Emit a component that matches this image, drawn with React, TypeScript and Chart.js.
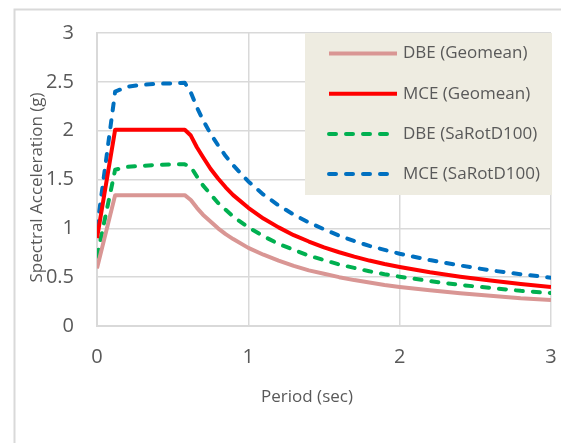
import React, { useEffect, useRef } from "react";
import { Chart, registerables } from "chart.js";

Chart.register(...registerables);

// Period (sec)
const periods = [0, 0.12, 0.2, 0.3, 0.4, 0.5, 0.58, 0.62, 0.66, 0.7, 0.75, 0.8, 0.85, 0.9, 1.0, 1.1, 1.2, 1.3, 1.4, 1.5, 1.6, 1.7, 1.8, 1.9, 2.0, 2.2, 2.4, 2.6, 2.8, 3.0];

// Spectral acceleration (g)
const dbeGeomean = [0.59, 1.34, 1.34, 1.34, 1.34, 1.34, 1.34, 1.29, 1.21, 1.14, 1.07, 1.0, 0.94, 0.89, 0.8, 0.73, 0.67, 0.615, 0.57, 0.535, 0.5, 0.47, 0.445, 0.42, 0.4, 0.365, 0.335, 0.31, 0.285, 0.267];
const mceGeomean = [0.9, 2.01, 2.01, 2.01, 2.01, 2.01, 2.01, 1.95, 1.83, 1.73, 1.61, 1.51, 1.42, 1.34, 1.21, 1.1, 1.01, 0.93, 0.865, 0.805, 0.755, 0.71, 0.67, 0.635, 0.605, 0.55, 0.505, 0.465, 0.43, 0.4];
const dbeSaRotD100 = [0.71, 1.6, 1.63, 1.64, 1.65, 1.655, 1.655, 1.63, 1.53, 1.44, 1.35, 1.26, 1.19, 1.12, 1.01, 0.92, 0.84, 0.78, 0.72, 0.675, 0.63, 0.595, 0.56, 0.53, 0.505, 0.46, 0.42, 0.39, 0.36, 0.337];
const mceSaRotD100 = [1.0, 2.4, 2.45, 2.47, 2.48, 2.485, 2.49, 2.39, 2.24, 2.11, 1.97, 1.85, 1.74, 1.645, 1.48, 1.345, 1.235, 1.14, 1.06, 0.99, 0.925, 0.87, 0.82, 0.78, 0.74, 0.675, 0.62, 0.57, 0.53, 0.495];

const seriesLabels = ["DBE (Geomean)", "MCE (Geomean)", "DBE (SaRotD100)", "MCE (SaRotD100)"];
const seriesValues = [dbeGeomean, mceGeomean, dbeSaRotD100, mceSaRotD100];
const seriesColors = ["#D99694", "#FF0000", "#00B050", "#0070C0"];
const seriesDashed = [false, false, true, true];

const xTickLabels = ["0", "1", "2", "3"];
const yTickLabels = ["0", "0.5", "1", "1.5", "2", "2.5", "3"];

const xTitle = "Period (sec)";
const yTitle = "Spectral Acceleration (g)";

const FONT = "'Open Sans', 'Noto Sans', sans-serif";
const TEXT = "#595959";
const GRID = "#D9D9D9";

const decorPlugin = {
  id: "decor",
  beforeDraw(chart: any) {
    const ctx = chart.ctx;
    ctx.save();
    ctx.fillStyle = "#ffffff";
    ctx.fillRect(0, 0, chart.width, chart.height);
    ctx.strokeStyle = GRID;
    ctx.lineWidth = 2;
    ctx.strokeRect(6.5, 1.5, chart.width + 20, chart.height + 20);
    ctx.restore();
  },
  afterDraw(chart: any) {
    const ctx = chart.ctx;
    const a = chart.chartArea;
    ctx.save();
    // Legend box
    const bx = a.right - 246;
    const by = a.top;
    const bw = 247;
    const bh = 162;
    ctx.fillStyle = "#EEECE1";
    ctx.fillRect(bx, by, bw, bh);
    chart.data.datasets.forEach((ds: any, i: number) => {
      const y = by + 20.5 + i * 40.2;
      ctx.beginPath();
      ctx.setLineDash(ds.borderDash || []);
      ctx.lineCap = ds.borderDash && ds.borderDash.length ? "round" : "butt";
      ctx.strokeStyle = ds.borderColor;
      ctx.lineWidth = 4;
      ctx.moveTo(bx + 24, y);
      ctx.lineTo(bx + 92, y);
      ctx.stroke();
      ctx.setLineDash([]);
      ctx.fillStyle = TEXT;
      ctx.font = `17px ${FONT}`;
      ctx.textAlign = "left";
      ctx.textBaseline = "middle";
      ctx.fillText(ds.label, bx + 98, y);
    });
    // Axis titles
    ctx.fillStyle = TEXT;
    ctx.font = `17px ${FONT}`;
    ctx.textAlign = "center";
    ctx.textBaseline = "middle";
    ctx.fillText(xTitle, (a.left + a.right) / 2 - 17, a.bottom + 71);
    ctx.translate(a.left - 60, (a.top + a.bottom) / 2 + 8);
    ctx.rotate(-Math.PI / 2);
    ctx.fillText(yTitle, 0, 0);
    ctx.restore();
  },
};

export default function App() {
  const canvasRef = useRef<HTMLCanvasElement | null>(null);

  useEffect(() => {
    if (!canvasRef.current) return;
    const chart = new Chart(canvasRef.current, {
      type: "line",
      data: {
        datasets: seriesLabels.map((label, i) => ({
          label,
          data: periods.map((p, j) => ({ x: p, y: seriesValues[i][j] })),
          borderColor: seriesColors[i],
          backgroundColor: seriesColors[i],
          borderWidth: 4,
          borderDash: seriesDashed[i] ? [7, 10] : [],
          borderCapStyle: seriesDashed[i] ? "round" : "butt",
          borderJoinStyle: "round",
          pointRadius: 0,
          tension: 0,
          fill: false,
        })),
      },
      options: {
        animation: false,
        responsive: false,
        maintainAspectRatio: false,
        layout: { autoPadding: false, padding: { left: 0, top: 25, right: 18, bottom: 0 } },
        plugins: {
          legend: { display: false },
          tooltip: { enabled: false },
          title: { display: false },
        },
        scales: {
          x: {
            type: "linear",
            min: 0,
            max: 3,
            ticks: {
              stepSize: 1,
              color: TEXT,
              font: { family: FONT, size: 20 },
              padding: 19,
              callback: (v: any) => xTickLabels[Math.round(Number(v))] ?? "",
            },
            grid: { color: GRID, lineWidth: 1.5, drawTicks: false },
            border: { color: GRID, width: 2 },
            afterFit: (s: any) => {
              s.height = 117;
              s.paddingLeft = 0;
              s.paddingRight = 0;
              s.paddingTop = 0;
              s.paddingBottom = 0;
            },
          },
          y: {
            type: "linear",
            min: 0,
            max: 3,
            ticks: {
              stepSize: 0.5,
              color: TEXT,
              font: { family: FONT, size: 20 },
              padding: 23,
              callback: (v: any) => yTickLabels[Math.round(Number(v) * 2)] ?? "",
            },
            grid: { color: GRID, lineWidth: 1.5, drawTicks: false },
            border: { color: GRID, width: 2 },
            afterFit: (s: any) => {
              s.width = 89;
              s.paddingLeft = 0;
              s.paddingRight = 0;
              s.paddingTop = 0;
              s.paddingBottom = 0;
            },
          },
        },
      },
      plugins: [decorPlugin],
    } as any);
    return () => chart.destroy();
  }, []);

  return (
    <div style={{ width: 561, height: 435 }}>
      <canvas ref={canvasRef} width={561} height={435} style={{ display: "block" }} />
    </div>
  );
}
